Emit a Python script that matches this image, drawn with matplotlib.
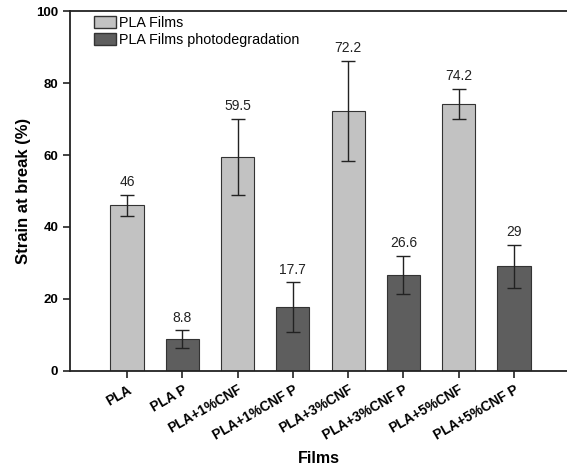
import matplotlib
matplotlib.use("Agg")
import matplotlib.pyplot as plt
import numpy as np
from matplotlib.patches import Patch

categories = ["PLA", "PLA P", "PLA+1%CNF", "PLA+1%CNF P", "PLA+3%CNF",
              "PLA+3%CNF P", "PLA+5%CNF", "PLA+5%CNF P"]
values = [46, 8.8, 59.5, 17.7, 72.2, 26.6, 74.2, 29]
errors = [3.0, 2.4, 10.5, 6.9, 14.0, 5.3, 4.2, 6.1]
labels = ["46", "8.8", "59.5", "17.7", "72.2", "26.6", "74.2", "29"]
series = ["PLA Films", "PLA Films photodegradation"]
colors = ["#c2c2c2", "#5e5e5e"]

plt.rcParams['font.family'] = ['Liberation Sans', 'DejaVu Sans']

fig = plt.figure(figsize=(5.67, 4.65), dpi=100)
ax = fig.add_axes([0.1235, 0.2028, 0.8765, 0.7731])

x = np.arange(len(categories))
bar_colors = [colors[i % 2] for i in range(len(categories))]
ax.bar(x, values, width=0.6, color=bar_colors, edgecolor="#333333", linewidth=0.8, zorder=2)
ax.errorbar(x, values, yerr=errors, fmt="none", ecolor="#222222", elinewidth=1.0,
            capsize=5, capthick=1.0, zorder=3)
for xi, v, e, t in zip(x, values, errors, labels):
    ax.annotate(t, (xi, v + e), xytext=(0, 4), textcoords="offset points",
                ha="center", va="bottom", fontsize=10, color="#222222")

handles = [Patch(facecolor=colors[0], edgecolor="#333333"),
           Patch(facecolor=colors[1], edgecolor="#333333")]
ax.legend(handles, series, loc="upper left", frameon=False, fontsize=10.3,
          bbox_to_anchor=(0.03, 1.01), handlelength=1.6, handleheight=0.9,
          handletextpad=0.2, labelspacing=0.2, borderaxespad=0.2)

ax.set_xlim(-1.03, 7.96)
ax.set_ylim(0, 100)
ax.set_yticks([0, 20, 40, 60, 80, 100])
ax.set_xticks(x)
ax.set_xticklabels(categories, rotation=30, ha="right", rotation_mode="anchor",
                   fontsize=9.8, fontweight="bold")
for lab in ax.get_yticklabels():
    lab.set_fontweight("bold")
    lab.set_fontsize(9.5)
ax.tick_params(axis="both", direction="out", length=5, width=1.2, color="#222222")
ax.spines["right"].set_visible(False)
for s in ["left", "bottom", "top"]:
    ax.spines[s].set_linewidth(1.3)
    ax.spines[s].set_color("#222222")
ax.set_ylabel("Strain at break (%)", fontsize=12, fontweight="bold")
ax.set_xlabel("Films", fontsize=11.5, fontweight="bold", labelpad=6)

fig.savefig("out.png", dpi=100)
